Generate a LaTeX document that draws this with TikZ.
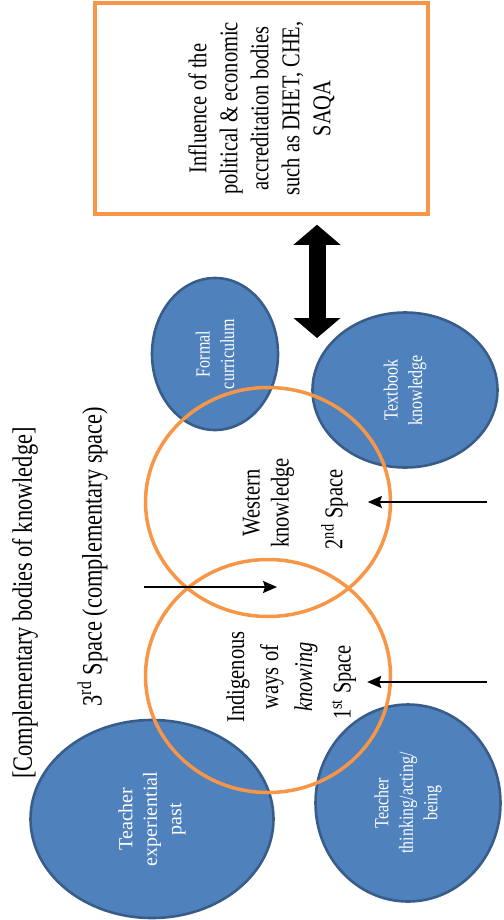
\documentclass[tikz,border=0pt]{standalone}
\usepackage{fontspec}
\setmainfont[FakeStretch=0.8]{Liberation Serif}
\newfontfamily\plainserif{Liberation Serif}
\usetikzlibrary{shapes.geometric,arrows.meta}
\definecolor{blobblue}{HTML}{4F81BD}
\definecolor{blobedge}{HTML}{385D8A}
\definecolor{ringorange}{HTML}{F79646}

\begin{document}
\begin{tikzpicture}[
    x=0.5pt, y=-0.5pt,
    blob/.style={ellipse, draw=blobedge, fill=blobblue, line width=1.3pt, rotate=90,
      inner sep=0pt, text=white, align=center, font=\fontsize{10}{12.25}\selectfont},
    ring/.style={ellipse, draw=ringorange, line width=1.75pt, inner sep=0pt},
    frame/.style={rectangle, draw=ringorange, line width=1.75pt, rotate=90,
      align=center, font=\fontsize{12.8}{15.5}\selectfont},
    words/.style={rotate=90, align=center, font=\fontsize{12.8}{14.5}\selectfont},
    pointer/.style={-{Stealth[length=7pt, width=6pt, inset=1pt]}, line width=0.75pt},
    bigarrow/.style={{Triangle[width=23.5pt, length=10pt, line width=0pt]}-{Triangle[width=23.5pt, length=10pt, line width=0pt]}, line width=8.5pt}
  ]
    \useasboundingbox (0,0) rectangle (503,920);

    % Bodies of knowledge
    \node[blob, minimum width=76pt, minimum height=63pt] (formal) at (215,354) {Formal\\curriculum};
    \node[blob, minimum width=77.5pt, minimum height=92.5pt] (textbook) at (405,390) {Textbook\\knowledge};
    \node[blob, minimum width=99pt, minimum height=121.5pt,
      font=\plainserif\fontsize{10}{12.25}\selectfont] (past) at (152,819) {Teacher\\experiential\\past};
    \node[blob, minimum width=98.5pt, minimum height=92.5pt] (being) at (408,803) {Teacher\\thinking/acting/\\being};

    % Spaces
    \node[ring, minimum width=122.5pt, minimum height=114.5pt] (western) at (268,502) {};
    \node[ring, minimum width=122.5pt, minimum height=116.5pt] (indig) at (268,676) {};

    \node[words] (westtext) at (268.5,503) {Western\\knowledge};
    \node[words] (space2) at (334.5,509.5) {2\textsuperscript{nd} Space};
    \node[words, font=\fontsize{12.8}{17}\selectfont] (indigtext) at (272,677) {Indigenous\\ways of\\\textit{knowing}};
    \node[words] (space1) at (344,682.5) {1\textsuperscript{st} Space};

    % Labels
    \node[words, font=\fontsize{14}{16}\selectfont] (title) at (25,603) {[Complementary bodies of knowledge]};
    \node[words, font=\fontsize{14}{16}\selectfont] (third) at (92.5,556.5) {3\textsuperscript{rd} Space (complementary space)};

    % Influence box
    \node[frame, minimum width=105.5pt, minimum height=166.5pt] (influence) at (261.5,108.5)
      {Influence of the\\political \& economic\\accreditation bodies\\such as DHET, CHE,\\SAQA};

    % Arrows
    \coordinate (from2) at (487,502);
    \coordinate (from1) at (487,682);
    \coordinate (lens) at (277,587);
    \coordinate (dbot) at (317,338);

    \draw[pointer, shorten >=6.5pt] (from2) -- (from2 -| space2.south);
    \draw[pointer, shorten >=2pt] (from1) -- (from1 -| space1.south);
    \draw[pointer] (lens -| western.west) -- (lens);
    \draw[bigarrow, shorten <=4.5pt] (dbot |- influence.west) -- (dbot);

  \end{tikzpicture}
\end{document}
